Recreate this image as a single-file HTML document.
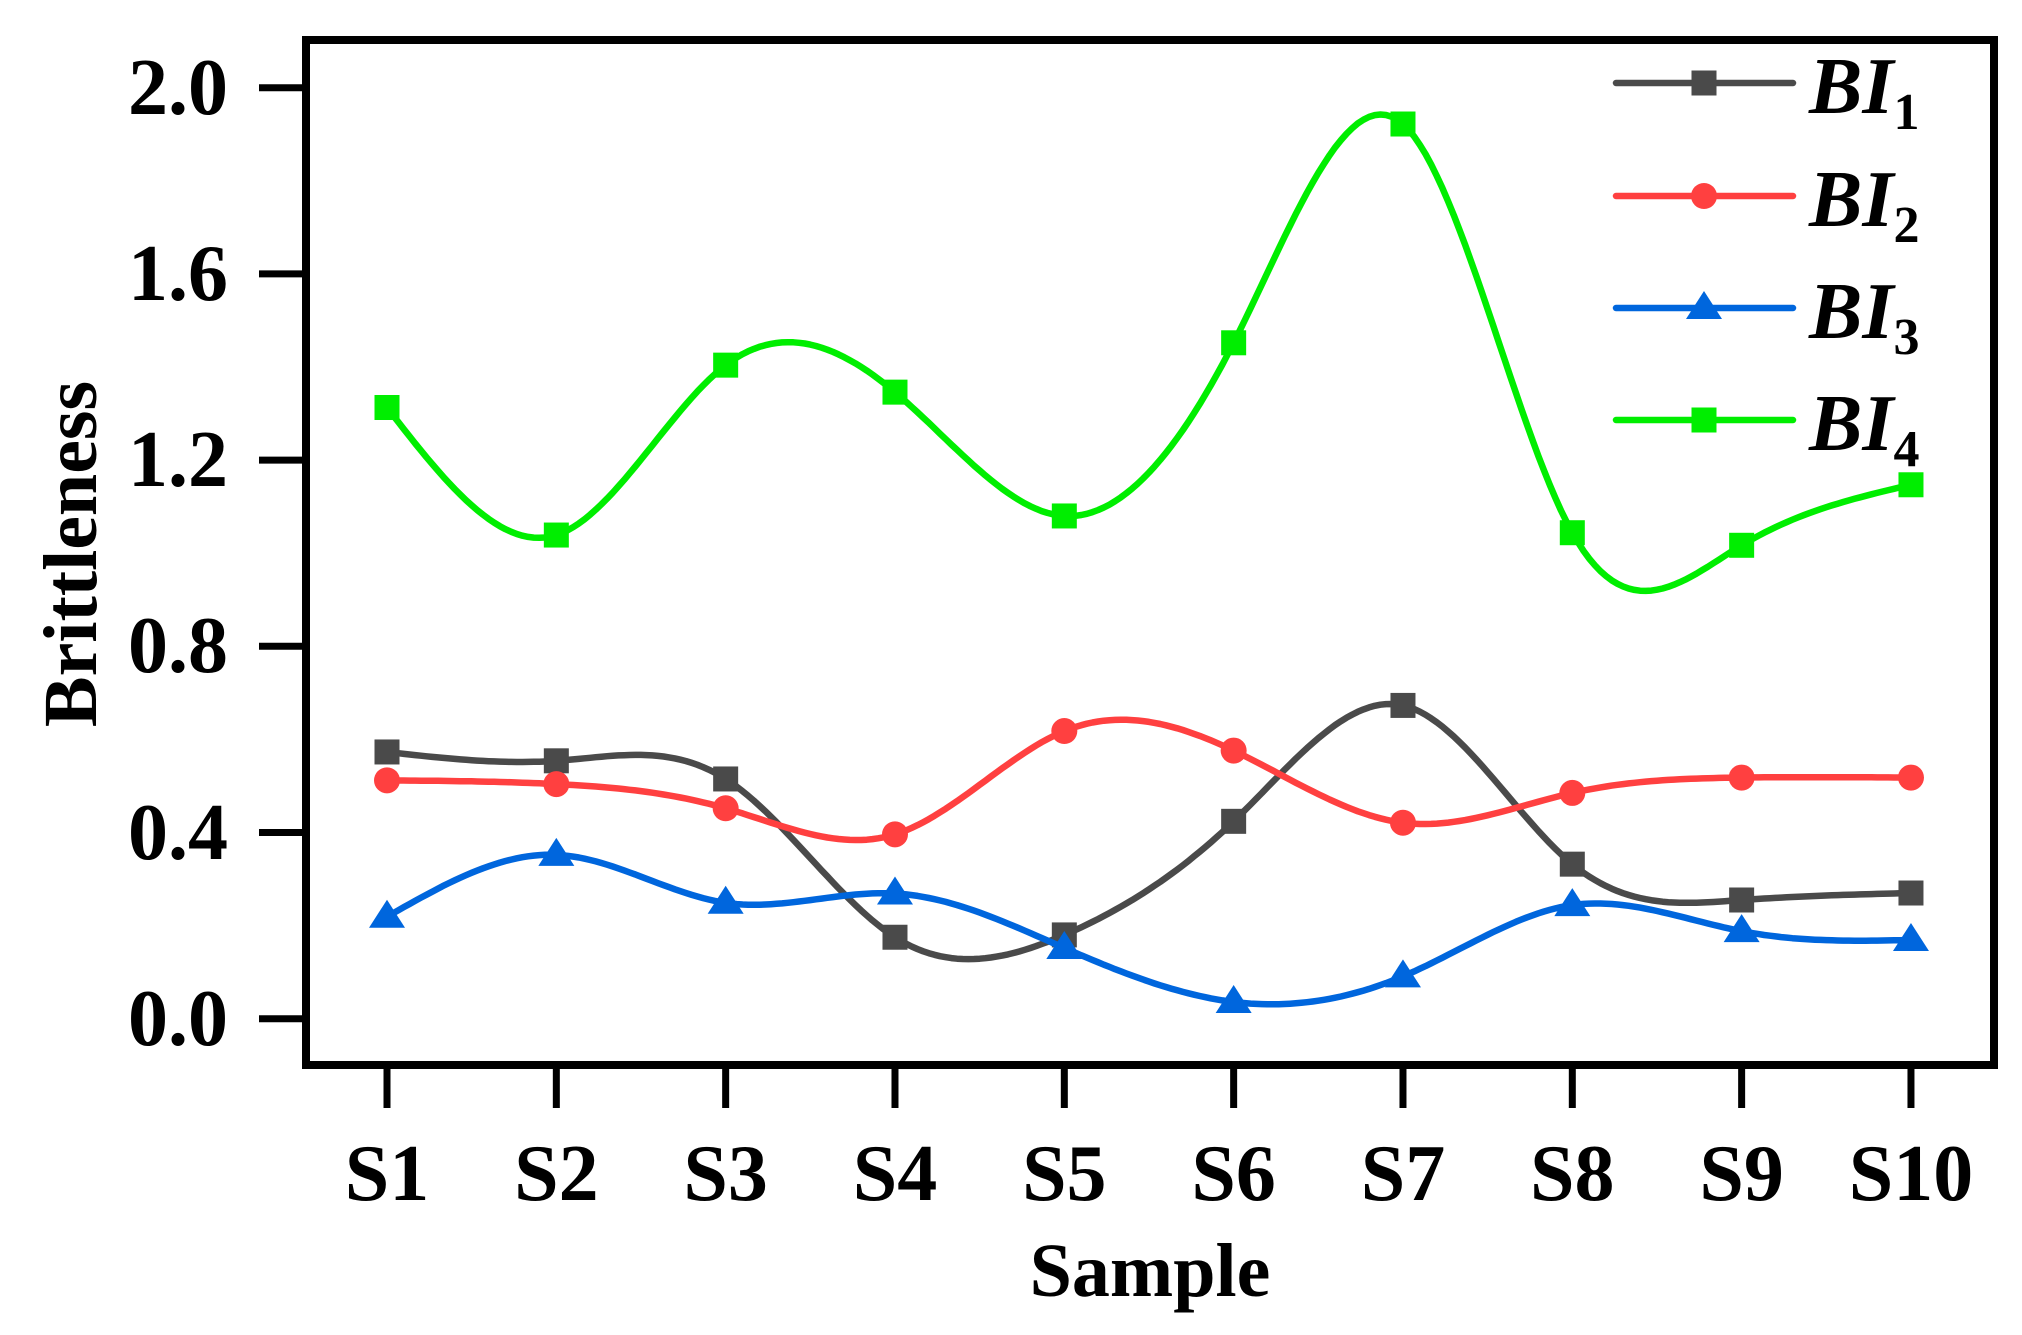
<!DOCTYPE html>
<html><head><meta charset="utf-8"><style>
html,body{margin:0;padding:0;background:#fff;}
svg{display:block;}
text{font-family:"Liberation Serif",serif;font-weight:bold;fill:#000;}
</style></head><body>
<svg id="s" width="2022" height="1335" xmlns="http://www.w3.org/2000/svg">
<rect x="0" y="0" width="2022" height="1335" fill="#fff"/>
<g id="plot"></g>
<rect x="306" y="40" width="1688" height="1025" fill="none" stroke="#000" stroke-width="8"/>
<g stroke="#000" stroke-width="7">
<line x1="259" y1="87.7" x2="306" y2="87.7"/>
<line x1="259" y1="273.9" x2="306" y2="273.9"/>
<line x1="259" y1="460.1" x2="306" y2="460.1"/>
<line x1="259" y1="646.3" x2="306" y2="646.3"/>
<line x1="259" y1="832.5" x2="306" y2="832.5"/>
<line x1="259" y1="1018.7" x2="306" y2="1018.7"/>
</g>
<g font-size="80" text-anchor="end">
<text x="228" y="114">2.0</text>
<text x="228" y="300">1.6</text>
<text x="228" y="486">1.2</text>
<text x="228" y="672">0.8</text>
<text x="228" y="859">0.4</text>
<text x="228" y="1045">0.0</text>
</g>
<g id="xt" stroke="#000" stroke-width="7"></g>
<g id="xl" font-size="80" text-anchor="middle"></g>
<text x="1150" y="1296" font-size="76" text-anchor="middle">Sample</text>
<text transform="translate(96,554) rotate(-90)" font-size="76" text-anchor="middle">Brittleness</text>
<g id="leg"></g>
</svg>
<script>
var NS="http://www.w3.org/2000/svg";
function el(t,a,p){var e=document.createElementNS(NS,t);for(var k in a)e.setAttribute(k,a[k]);(p||document.getElementById('plot')).appendChild(e);return e;}
var X=[];for(var i=0;i<10;i++)X.push(387+i*169.33);
function Y(v){return 1018.7-v*465.5;}
var xt=document.getElementById('xt'),xl=document.getElementById('xl');
X.forEach(function(x,i){el('line',{x1:x,y1:1064,x2:x,y2:1108},xt);var t=el('text',{x:x,y:1200},xl);t.textContent='S'+(i+1);});
var S=[
{c:'#4a4a4a',m:'sq',d:[0.573,0.554,0.515,0.175,0.18,0.424,0.673,0.332,0.255,0.27]},
{c:'#ff4040',m:'ci',d:[0.512,0.504,0.452,0.396,0.618,0.576,0.421,0.485,0.518,0.518]},
{c:'#0066dd',m:'tr',d:[0.219,0.352,0.249,0.269,0.152,0.036,0.091,0.244,0.188,0.169]},
{c:'#00ee00',m:'sq',d:[1.313,1.039,1.404,1.346,1.080,1.452,1.922,1.044,1.017,1.147]}];
function mark(m,x,y,c,p){
 if(m=='sq')el('rect',{x:x-12.5,y:y-12.5,width:25,height:25,fill:c},p);
 else if(m=='ci')el('circle',{cx:x,cy:y,r:13,fill:c},p);
 else el('polygon',{points:(x-18)+','+(y+11)+' '+x+','+(y-17)+' '+(x+18)+','+(y+11),fill:c},p);
}
function natural(y){ // second derivatives, uniform h=1
 var n=y.length,M=new Array(n).fill(0),a=[],b=[],c=[],r=[];
 for(var i=1;i<n-1;i++){a.push(1);b.push(4);c.push(1);r.push(6*(y[i+1]-2*y[i]+y[i-1]));}
 var m=r.length;
 for(var i=1;i<m;i++){var w=a[i]/b[i-1];b[i]-=w*c[i-1];r[i]-=w*r[i-1];}
 var x=new Array(m);x[m-1]=r[m-1]/b[m-1];
 for(var i=m-2;i>=0;i--)x[i]=(r[i]-c[i]*x[i+1])/b[i];
 for(var i=0;i<m;i++)M[i+1]=x[i];return M;
}
S.forEach(function(s){
 var M=natural(s.d),d='';
 for(var i=0;i<9;i++){
  for(var k=0;k<=30;k++){
   if(i>0&&k==0)continue;
   var t=k/30,y0=s.d[i],y1=s.d[i+1];
   var v=(1-t)*y0+t*y1+((Math.pow(1-t,3)-(1-t))*M[i]+(Math.pow(t,3)-t)*M[i+1])/6;
   var px=X[i]+t*169.33,py=Y(v);
   d+=(d?'L':'M')+px.toFixed(1)+','+py.toFixed(1);
  }
 }
 el('path',{d:d,fill:'none',stroke:s.c,'stroke-width':6.5,'stroke-linejoin':'round'});
 s.d.forEach(function(v,i){mark(s.m,X[i],Y(v),s.c);});
});
var leg=document.getElementById('leg');
[83,196,308,420].forEach(function(y,i){
 var s=S[i];
 el('line',{x1:1616,y1:y,x2:1793,y2:y,stroke:s.c,'stroke-width':6.5,'stroke-linecap':'round'},leg);
 mark(s.m,1704,y,s.c,leg);
 var t=el('text',{x:1809,y:y+30,'font-size':80,'font-style':'italic'},leg);
 t.textContent='BI';
 var sb=el('tspan',{dy:16,'font-size':52,'font-style':'normal'},t);sb.textContent=(i+1);
});
</script>
</body></html>
